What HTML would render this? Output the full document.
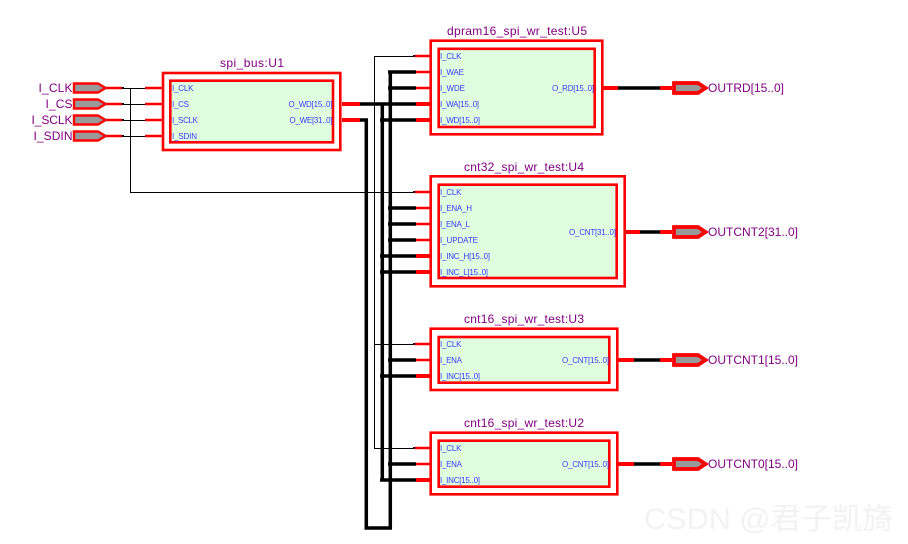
<!DOCTYPE html>
<html><head><meta charset="utf-8"><style>
html,body{margin:0;padding:0;background:#fff}
svg{display:block}
.t{font-family:"Liberation Sans",sans-serif;font-size:12px;fill:#800080}
.p{font-family:"Liberation Sans",sans-serif;font-size:8px;fill:#3a3aff}
.b{fill:#dffedf;stroke:#f00;stroke-width:2.6}
.o{fill:#fff;stroke:#f00;stroke-width:2.6}
.k1{stroke:#000;stroke-width:1;fill:none}
.k3{stroke:#000;stroke-width:3.5;fill:none}
.r2{stroke:#f00;stroke-width:2.4;fill:none}
.r4{stroke:#f00;stroke-width:4;fill:none}
</style></head><body>
<svg width="908" height="544" viewBox="0 0 908 544" xmlns="http://www.w3.org/2000/svg">
<!-- blocks -->
<rect class="o" x="163" y="73" width="177.300" height="77"/><rect class="b" x="170.300" y="80.700" width="162.700" height="61.600"/>
<rect class="o" x="430.700" y="40.700" width="171.600" height="93.600"/><rect class="b" x="438.700" y="48.800" width="156" height="78.200"/>
<rect class="o" x="430.700" y="176.300" width="194" height="110"/><rect class="b" x="438.700" y="184.700" width="178" height="93.300"/>
<rect class="o" x="430.700" y="328.700" width="186.600" height="61.300"/><rect class="b" x="438.700" y="337" width="170.600" height="45.700"/>
<rect class="o" x="430.700" y="432.700" width="186.600" height="61.600"/><rect class="b" x="438.700" y="440.700" width="170.600" height="46"/>

<!-- thin wires -->
<path class="k1" d="M122 88.500H145M122 104.500H145M122 120.500H145M122 136.500H145M130.500 88V192.500M130 192.500H414M374.500 56.500H414M374.500 56V448.500M374 344.500H414M374 448.500H414"/>
<!-- junction ticks -->
<path stroke="#000" stroke-width="2" fill="none" d="M121 88H124M121 104H124M121 120H124M121 136H124M413 56H415M413 192H415M413 344H415M413 448H415"/>
<!-- input red stubs -->
<path class="r2" d="M106 88H122M145 88H162M106 104H122M145 104H162M106 120H122M145 120H162M106 136H122M145 136H162"/>
<!-- block input red stubs -->
<path class="r2" d="M415 56H430M415 72H430M415 88H430M415 192H430M415 208H430M415 224H430M415 240H430M415 344H430M415 360H430M415 448H430M415 464H430"/>
<!-- thick black bus -->
<path class="k3" d="M360 104H416M360 120H366.300V528M380 120H416M382.300 103V480M388 72H416M388 88H416M390.300 72V528M364.500 528H392M388 208H416M388 224H416M388 240H416M380 256H416M380 272H416M388 360H416M380 376H416M388 464H416M380 480H416"/>
<!-- thick red stubs -->
<path class="r4" d="M342 104H360M342 120H360M416 104H432M416 120H432M416 256H432M416 272H432M416 376H432M416 480H432"/>
<!-- outputs -->
<path class="r4" d="M603 88H618M660 88H672M626 232H640M660 232H672M618 360H634M660 360H672M618 464H634M660 464H672"/>
<path class="k3" d="M618 88H660M640 232H660M634 360H660M634 464H660"/>

<!-- input pins -->
<g fill="#999" stroke="#f00" stroke-width="2.400">
<path d="M74 83.500H98L105.500 88L98 92.500H74Z"/>
<path d="M74 99.500H98L105.500 104L98 108.500H74Z"/>
<path d="M74 115.500H98L105.500 120L98 124.500H74Z"/>
<path d="M74 131.500H98L105.500 136L98 140.500H74Z"/>
</g>
<!-- output pins -->
<g fill="#999" stroke="#f00" stroke-width="3.800">
<path d="M674 83H698L705.500 88L698 93H674Z"/>
<path d="M674 227H698L705.500 232L698 237H674Z"/>
<path d="M674 355H698L705.500 360L698 365H674Z"/>
<path d="M674 459H698L705.500 464L698 469H674Z"/>
</g>

<!-- titles -->
<g class="t" text-anchor="middle">
<text x="252" y="67" textLength="64">spi_bus:U1</text>
<text x="517" y="35" textLength="140">dpram16_spi_wr_test:U5</text>
<text x="524" y="171" textLength="120">cnt32_spi_wr_test:U4</text>
<text x="524" y="323" textLength="120">cnt16_spi_wr_test:U3</text>
<text x="524" y="427" textLength="120">cnt16_spi_wr_test:U2</text>
</g>
<g class="t" text-anchor="end">
<text x="72.500" y="92" textLength="34">I_CLK</text>
<text x="72.500" y="108" textLength="27">I_CS</text>
<text x="72.500" y="124" textLength="41">I_SCLK</text>
<text x="72.500" y="140" textLength="39">I_SDIN</text>
</g>
<g class="t">
<text x="708" y="92" textLength="76">OUTRD[15..0]</text>
<text x="708" y="236" textLength="90">OUTCNT2[31..0]</text>
<text x="708" y="364" textLength="90">OUTCNT1[15..0]</text>
<text x="708" y="468" textLength="90">OUTCNT0[15..0]</text>
</g>
<!-- pin labels -->
<g class="p">
<text x="172" y="91" textLength="21.500">I_CLK</text>
<text x="172" y="107" textLength="17">I_CS</text>
<text x="172" y="123" textLength="26">I_SCLK</text>
<text x="172" y="139" textLength="25">I_SDIN</text>
<text x="440" y="59" textLength="21.500">I_CLK</text>
<text x="440" y="75" textLength="24">I_WAE</text>
<text x="440" y="91" textLength="25">I_WDE</text>
<text x="440" y="107" textLength="39">I_WA[15..0]</text>
<text x="440" y="123" textLength="40">I_WD[15..0]</text>
<text x="440" y="195" textLength="21.500">I_CLK</text>
<text x="440" y="211" textLength="32">I_ENA_H</text>
<text x="440" y="227" textLength="30">I_ENA_L</text>
<text x="440" y="243" textLength="38">I_UPDATE</text>
<text x="440" y="259" textLength="50">I_INC_H[15..0]</text>
<text x="440" y="275" textLength="48">I_INC_L[15..0]</text>
<text x="440" y="347" textLength="21.500">I_CLK</text>
<text x="440" y="363" textLength="22">I_ENA</text>
<text x="440" y="379" textLength="40">I_INC[15..0]</text>
<text x="440" y="451" textLength="21.500">I_CLK</text>
<text x="440" y="467" textLength="22">I_ENA</text>
<text x="440" y="483" textLength="40">I_INC[15..0]</text>
</g>
<g class="p" text-anchor="end">
<text x="332.500" y="107" textLength="44">O_WD[15..0]</text>
<text x="332.500" y="123" textLength="43">O_WE[31..0]</text>
<text x="594" y="91" textLength="42">O_RD[15..0]</text>
<text x="616" y="235" textLength="47">O_CNT[31..0]</text>
<text x="609" y="363" textLength="47">O_CNT[15..0]</text>
<text x="609" y="467" textLength="47">O_CNT[15..0]</text>
</g>
<!-- watermark -->
<text x="644" y="529" textLength="249" lengthAdjust="spacingAndGlyphs" font-family="'Liberation Sans','Noto Sans CJK SC',sans-serif" font-size="30" fill="#f2f2f2">CSDN @君子凯旖</text>
</svg>
</body></html>
